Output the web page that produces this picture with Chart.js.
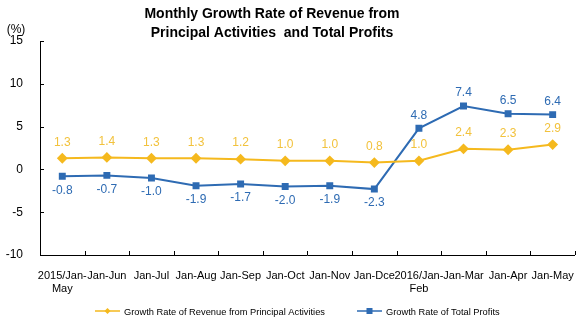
<!DOCTYPE html>
<html>
<head>
<meta charset="utf-8">
<script src="https://cdn.jsdelivr.net/npm/chart.js@4.4.1/dist/chart.umd.min.js"></script>
<style>
  html, body { margin: 0; padding: 0; background: #fff; }
  #wrap { width: 588px; height: 323px; }
</style>
</head>
<body>
<div id="wrap"><canvas id="chart" width="588" height="323"></canvas></div>
<script>
// data
const labels = [['2015/Jan-', 'May'], 'Jan-Jun', 'Jan-Jul', 'Jan-Aug', 'Jan-Sep', 'Jan-Oct', 'Jan-Nov', 'Jan-Dce', ['2016/Jan-', 'Feb'], 'Jan-Mar', 'Jan-Apr', 'Jan-May']
const revenue = [1.3, 1.4, 1.3, 1.3, 1.2, 1.0, 1.0, 0.8, 1.0, 2.4, 2.3, 2.9]
const profits = [-0.8, -0.7, -1.0, -1.9, -1.7, -2.0, -1.9, -2.3, 4.8, 7.4, 6.5, 6.4]
const yTicks = [-10, -5, 0, 5, 10, 15]

const FONT = '"Liberation Sans", Arial, sans-serif'
const YELLOW = '#F5B91E'
const YELLOW_TXT = '#F2C23C'
const BLUE = '#2E6BB3'

Chart.defaults.font.family = FONT
Chart.defaults.color = '#000'

// tick marks, value labels, title, legend
const extras = {
  id: 'extras',
  afterDraw(chart) {
    const ctx = chart.ctx
    const x = chart.scales.x
    const y = chart.scales.y
    const area = chart.chartArea
    ctx.save()
    ctx.strokeStyle = '#000'
    ctx.lineWidth = 1

    // inside ticks on y
    yTicks.forEach(v => {
      const py = Math.round(y.getPixelForValue(v)) + 0.5
      ctx.beginPath()
      ctx.moveTo(area.left, py)
      ctx.lineTo(area.left + 4, py)
      ctx.stroke()
    })
    // inside ticks on x, between categories
    const step = x.getPixelForValue(1) - x.getPixelForValue(0)
    for (let i = 0; i <= labels.length; i++) {
      const px = Math.round(x.getPixelForValue(0) - step / 2 + i * step) + 0.5
      ctx.beginPath()
      ctx.moveTo(px, area.bottom)
      ctx.lineTo(px, area.bottom - 4)
      ctx.stroke()
    }

    // value labels
    ctx.font = '12px ' + FONT
    ctx.textAlign = 'center'
    ctx.textBaseline = 'middle'
    chart.data.datasets.forEach((ds, di) => {
      const meta = chart.getDatasetMeta(di)
      meta.data.forEach((pt, i) => {
        const v = ds.data[i]
        let dy
        if (di == 0) dy = -16
        else dy = v < 0 ? 14 : -13
        ctx.fillStyle = di == 0 ? YELLOW_TXT : BLUE
        ctx.fillText(v.toFixed(1), pt.x, pt.y + dy)
      })
    })

    // title
    ctx.fillStyle = '#000'
    ctx.font = 'bold 14px ' + FONT
    ctx.fillText('Monthly Growth Rate of Revenue from', 272, 14)
    ctx.fillText('Principal Activities  and Total Profits', 272, 33)

    // unit
    ctx.font = '12px ' + FONT
    ctx.fillText('(%)', 16, 30)

    // legend
    ctx.font = '9.3px ' + FONT
    ctx.textAlign = 'left'
    const items = [
      { x: 95, w: 25, ds: chart.data.datasets[0] },
      { x: 357, w: 25, ds: chart.data.datasets[1] }
    ]
    const ly = 311
    items.forEach(it => {
      ctx.strokeStyle = it.ds.borderColor
      ctx.lineWidth = 1.5
      ctx.beginPath()
      ctx.moveTo(it.x, ly)
      ctx.lineTo(it.x + it.w, ly)
      ctx.stroke()
      ctx.fillStyle = it.ds.borderColor
      const cx = it.x + it.w / 2
      if (it.ds.pointStyle == 'rectRot') {
        ctx.beginPath()
        ctx.moveTo(cx, ly - 3)
        ctx.lineTo(cx + 3, ly)
        ctx.lineTo(cx, ly + 3)
        ctx.lineTo(cx - 3, ly)
        ctx.closePath()
        ctx.fill()
      } else {
        ctx.fillRect(cx - 3, ly - 3, 6, 6)
      }
      ctx.fillStyle = '#000'
      ctx.fillText(it.ds.label, it.x + it.w + 4, ly + 1)
    })
    ctx.restore()
  }
}

new Chart(document.getElementById('chart'), {
  type: 'line',
  data: {
    labels: labels,
    datasets: [{
      label: 'Growth Rate of Revenue from Principal Activities',
      data: revenue,
      borderColor: YELLOW,
      backgroundColor: YELLOW,
      borderWidth: 2,
      pointStyle: 'rectRot',
      pointRadius: 4,
      pointHoverRadius: 4,
      tension: 0
    }, {
      label: 'Growth Rate of Total Profits',
      data: profits,
      borderColor: BLUE,
      backgroundColor: BLUE,
      borderWidth: 2,
      pointStyle: 'rect',
      pointRadius: 3.5,
      pointHoverRadius: 3.5,
      tension: 0
    }]
  },
  options: {
    responsive: false,
    animation: false,
    layout: { padding: { top: 41, left: 6, right: 5, bottom: 23 } },
    plugins: {
      legend: { display: false },
      title: { display: false },
      tooltip: { enabled: false }
    },
    scales: {
      x: {
        offset: true,
        grid: { display: false, drawTicks: false },
        border: { display: true, color: '#000', width: 1 },
        ticks: { font: { size: 11 }, color: '#000', padding: 14, maxRotation: 0, autoSkip: false },
        afterFit(scale) { scale.height = 45 }
      },
      y: {
        min: -10,
        max: 15,
        grid: { display: false, drawTicks: false },
        border: { display: true, color: '#000', width: 1 },
        ticks: { stepSize: 5, font: { size: 12 }, color: '#000', padding: 17 },
        afterFit(scale) { scale.width = 34 }
      }
    }
  },
  plugins: [extras]
})
</script>
</body>
</html>
